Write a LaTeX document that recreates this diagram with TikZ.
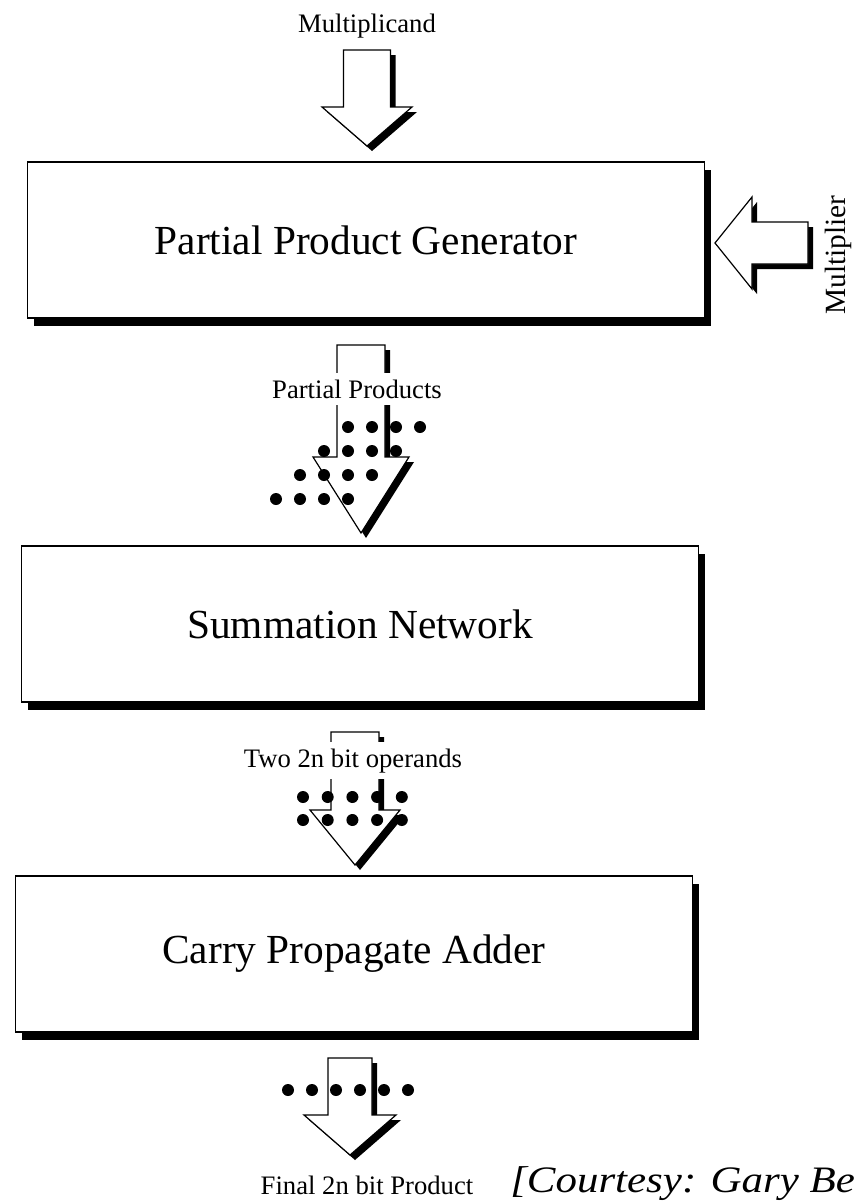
\documentclass[tikz,border=0pt]{standalone}
\usepackage{fontspec}
\setmainfont{Liberation Serif}
\usetikzlibrary{shadows}

% hollow block arrow pointing down: centre x, shaft top, head base, tip, shaft half width, head half width
\newcommand{\blockdown}[6]{%
  \fill[shift={(5,5)}] ({#1-#5},#2) -- ({#1+#5},#2) -- ({#1+#5},#3) -- ({#1+#6},#3)
    -- (#1,#4) -- ({#1-#6},#3) -- ({#1-#5},#3) -- cycle;
  \filldraw[fill=white,line width=0.9pt] ({#1-#5},#2) -- ({#1+#5},#2) -- ({#1+#5},#3) -- ({#1+#6},#3)
    -- (#1,#4) -- ({#1-#6},#3) -- ({#1-#5},#3) -- cycle;
}

\begin{document}
\begin{tikzpicture}[x=0.75pt,y=-0.75pt,
		block node/.style={rectangle,draw,fill=white,line width=1.2pt,minimum width=508pt,minimum height=117pt,
			font=\fontsize{31}{36}\selectfont,drop shadow={fill=black,opacity=1,shadow xshift=5pt,shadow yshift=-6pt}},
		small label/.style={font=\fontsize{20}{24}\selectfont,inner sep=0pt},
		gap label/.style={small label,fill=white,inner xsep=2pt,inner ysep=5pt}]
		\useasboundingbox (0,0) rectangle (855,1203);

		\node[block node] (ppg) at (366,240) {Partial Product Generator};
		\node[block node] (sum) at (360,624) {Summation Network};
		\node[block node] (cpa) at (354,954) {Carry Propagate Adder};

		\blockdown{367}{50}{107}{146}{23.5}{45}
		\blockdown{361}{345}{457}{533}{24}{48}
		\blockdown{355}{732}{810}{865}{24}{45}
		\blockdown{350}{1058}{1115}{1155}{22}{46}

		\fill[shift={(5,5)}] (715,243) -- (752,197) -- (752,222) -- (808,222) -- (808,264) -- (752,264) -- (752,289) -- cycle;
		\filldraw[fill=white,line width=0.9pt] (715,243) -- (752,197) -- (752,222) -- (808,222) -- (808,264) -- (752,264) -- (752,289) -- cycle;

		\node[small label,anchor=base] (mcand) at (367,32) {Multiplicand};
		\node[small label,anchor=base,rotate=90,font=\fontsize{22}{26}\selectfont] (mplier) at (845,255) {Multiplier};
		\node[gap label,anchor=base] (pprod) at (357,398) {Partial Products};
		\node[gap label,anchor=base] (ops) at (353,767) {Two 2n bit operands};
		\node[small label,anchor=base] (final) at (367,1194) {Final 2n bit Product};
		\node[anchor=base west,inner sep=0pt,font=\fontsize{28}{32}\selectfont\itshape] (src) at (510,1192)
			{\scalebox{1.15}[1]{[Courtesy: Gary Be}};

		\foreach \r in {0,...,3}
			\foreach \c in {0,...,3}
				\fill ({348+24*(\c-\r)},{427+24*\r}) circle[radius=4.5pt];
		\foreach \r in {0,1}
			\foreach \c in {0,...,4}
				\fill ({303+24.7*\c},{797+23*\r}) circle[radius=4.5pt];
		\foreach \c in {0,...,5}
			\fill ({288+24*\c},1090) circle[radius=4.5pt];
\end{tikzpicture}
\end{document}
